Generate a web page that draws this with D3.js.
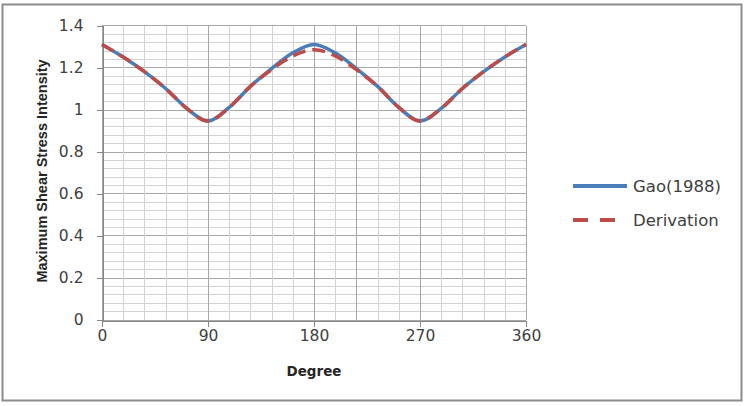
<!DOCTYPE html>
<html>
<head>
<meta charset="utf-8">
<script src="https://cdn.jsdelivr.net/npm/d3@7"></script>
<style>
  body { margin: 0; background: #fff; }
  svg { display: block; }
</style>
</head>
<body>
<div id="chart"></div>
<script>
// values
const degrees = [0, 18, 36, 54, 72, 90, 108, 126, 144, 162, 180, 198, 216, 234, 252, 270, 288, 306, 324, 342, 360];
const gao = [1.31, 1.25, 1.18, 1.10, 1.005, 0.945, 1.01, 1.11, 1.195, 1.27, 1.31, 1.27, 1.195, 1.11, 1.01, 0.945, 1.005, 1.10, 1.18, 1.25, 1.31];
const derivation = [1.31, 1.25, 1.18, 1.10, 1.005, 0.945, 1.01, 1.11, 1.19, 1.255, 1.285, 1.255, 1.19, 1.11, 1.01, 0.945, 1.005, 1.10, 1.18, 1.25, 1.31];
const xTicks = [0, 90, 180, 270, 360];
const yTicks = [0, 0.2, 0.4, 0.6, 0.8, 1, 1.2, 1.4];
const seriesNames = ["Gao(1988)", "Derivation"];

let width = 745,
  height = 406;

let svg = d3.select("#chart").append("svg")
  .attr("width", width)
  .attr("height", height);

// outer frame
svg.append("rect")
  .attr("x", 2.5).attr("y", 4.5)
  .attr("width", 739).attr("height", 396)
  .attr("fill", "#fff")
  .attr("stroke", "#8c8c8c")
  .attr("stroke-width", 2);

let x = d3.scaleLinear().domain([0, 360]).range([102, 526]);
let y = d3.scaleLinear().domain([0, 1.4]).range([319.5, 25.5]);

// grid
let grid = svg.append("g").attr("shape-rendering", "crispEdges");

grid.selectAll("line.hminor")
  .data(d3.range(0, 1.4001, 0.04))
  .enter().append("line")
  .attr("x1", x(0)).attr("x2", x(360))
  .attr("y1", d => Math.round(y(d)) + 0.5)
  .attr("y2", d => Math.round(y(d)) + 0.5)
  .attr("stroke", (d, i) => i % 5 == 0 ? "#a8a8a8" : "#d2d2d2");

grid.selectAll("line.vminor")
  .data(d3.range(0, 361, 18))
  .enter().append("line")
  .attr("y1", y(0)).attr("y2", y(1.4))
  .attr("x1", d => Math.round(x(d)) + 0.5)
  .attr("x2", d => Math.round(x(d)) + 0.5)
  .attr("stroke", d => (d % 90 == 0 || d == 216) ? "#a8a8a8" : "#d2d2d2");

// axes
let axisColor = "#868686";
let xAxis = svg.append("g")
  .attr("transform", "translate(0," + (Math.round(y(0)) + 0.5) + ")")
  .call(d3.axisBottom(x).tickValues(xTicks).tickSize(6).tickPadding(3).tickFormat(d3.format("d")));
let yAxis = svg.append("g")
  .attr("transform", "translate(" + (Math.round(x(0)) + 0.5) + ",0)")
  .call(d3.axisLeft(y).tickValues(yTicks).tickSize(6).tickPadding(13).tickFormat(d => d == 0 || d == 1 ? d : d3.format(".1f")(d)));

[xAxis, yAxis].forEach(a => {
  a.select(".domain").attr("stroke", axisColor).attr("shape-rendering", "crispEdges");
  a.selectAll(".tick line").attr("stroke", axisColor).attr("shape-rendering", "crispEdges");
  a.selectAll(".tick text")
    .attr("fill", "#404040")
    .attr("font-family", "DejaVu Sans, sans-serif")
    .attr("font-size", "15.5px");
});

// axis titles
svg.append("text")
  .attr("x", 314).attr("y", 376)
  .attr("text-anchor", "middle")
  .attr("font-family", "DejaVu Sans, sans-serif")
  .attr("font-weight", "bold")
  .attr("font-size", "13.5px")
  .attr("fill", "#262626")
  .text("Degree");

svg.append("text")
  .attr("transform", "translate(47,171) rotate(-90)")
  .attr("text-anchor", "middle")
  .attr("font-family", "Liberation Sans, sans-serif")
  .attr("font-weight", "bold")
  .attr("font-size", "14.5px")
  .attr("fill", "#262626")
  .text("Maximum Shear Stress Intensity");

// series
let line = d3.line()
  .x((d, i) => x(degrees[i]))
  .y(d => y(d))
  .curve(d3.curveCardinal.tension(0));

let colors = ["#4a7ebb", "#be4b48"];
let dashes = [null, "13,7"];

[gao, derivation].forEach((values, k) => {
  svg.append("path")
    .datum(values)
    .attr("d", line)
    .attr("fill", "none")
    .attr("stroke", colors[k])
    .attr("stroke-width", 3.5)
    .attr("stroke-dasharray", dashes[k]);
});

// legend
let legend = svg.append("g");
seriesNames.forEach((name, k) => {
  let ly = 186 + k * 34;
  legend.append("line")
    .attr("x1", 573).attr("x2", 627)
    .attr("y1", ly).attr("y2", ly)
    .attr("stroke", colors[k])
    .attr("stroke-width", 4)
    .attr("stroke-dasharray", k == 1 ? "15,12" : null);
  legend.append("text")
    .attr("x", 633).attr("y", ly + 6)
    .attr("font-family", "DejaVu Sans, sans-serif")
    .attr("font-size", "16.5px")
    .attr("fill", "#404040")
    .text(name);
});
</script>
</body>
</html>
